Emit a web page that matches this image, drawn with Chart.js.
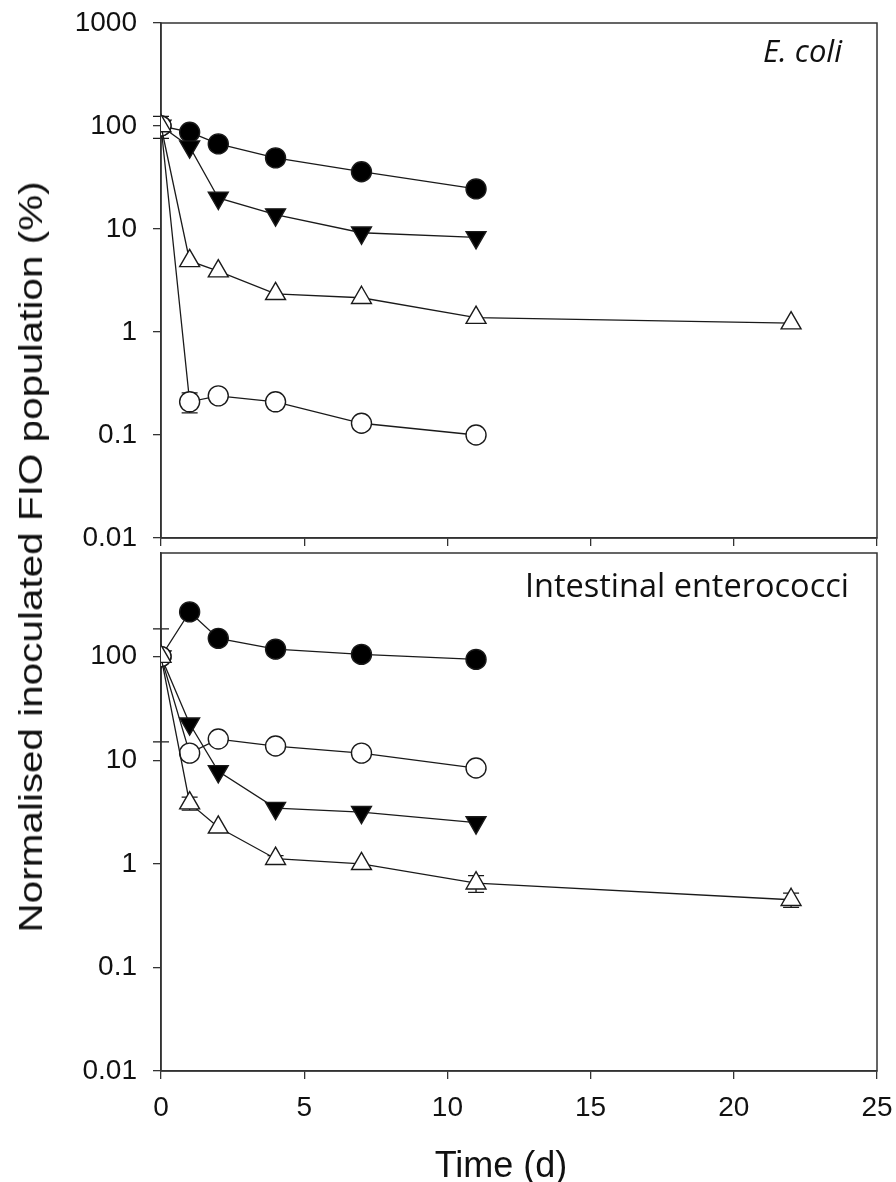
<!DOCTYPE html>
<html>
<head>
<meta charset="utf-8">
<title>FIO survival</title>
<script src="https://cdn.jsdelivr.net/npm/chart.js@4.4.1/dist/chart.umd.min.js"></script>
<style>
  html, body { margin: 0; padding: 0; background: #fff; }
  #wrap { position: relative; width: 896px; height: 1182px; overflow: hidden; }
  canvas { position: absolute; left: 0; }
  #top { top: 0; }
  #bottom { top: 548px; }
  .axis-title { position: absolute; font-family: 'Liberation Sans', Arial, sans-serif; color: #111; white-space: nowrap; }
  #xTitle { font-size: 36px; line-height: 36px; left: 501px; top: 1147px; transform: translateX(-50%); }
  #yTitle { font-size: 34px; line-height: 34px; left: 29.5px; top: 557px; transform: translate(-50%, -50%) rotate(-90deg) scaleX(1.19); }
</style>
</head>
<body>
<div id="wrap">
  <canvas id="top" width="896" height="560"></canvas>
  <canvas id="bottom" width="896" height="634"></canvas>
  <div class="axis-title" id="yTitle">Normalised inoculated FIO population (%)</div>
  <div class="axis-title" id="xTitle">Time (d)</div>
</div>
<script>
// sampling days (the open-triangle treatment was followed to day 22)
const days = [0, 1, 2, 4, 7, 11];
const daysLong = [0, 1, 2, 4, 7, 11, 22];
const xTicks = [0, 5, 10, 15, 20, 25];
const yTicksTop = [0.01, 0.1, 1, 10, 100, 1000];
const yTicksBottom = [0.01, 0.1, 1, 10, 100];

// E. coli, % of inoculated population
const ecoliFilledCircle = [100, 87, 67, 49, 36, 24.5];
const ecoliFilledTriangle = [100, 63, 20, 13.8, 9.2, 8.3];
const ecoliOpenTriangle = [100, 4.9, 3.9, 2.35, 2.15, 1.38, 1.22];
const ecoliOpenCircle = [100, 0.21, 0.24, 0.21, 0.13, 0.1];
// standard deviations (null = hidden behind the marker)
const ecoliFilledTriangleSd = [24, null, null, null, null, null];
const ecoliOpenCircleSd = [null, 0.046, null, null, null, null];

// Intestinal enterococci, % of inoculated population
const entFilledCircle = [100, 270, 150, 118, 105, 94];
const entOpenCircle = [100, 11.7, 16, 13.7, 11.7, 8.4];
const entFilledTriangle = [100, 22.5, 7.8, 3.45, 3.15, 2.5];
const entOpenTriangle = [100, 3.85, 2.25, 1.12, 1.0, 0.65, 0.45];
const entOpenCircleSd = [85, null, null, null, null, null];
const entOpenTriangleSd = [null, 0.55, null, 0.08, null, 0.12, 0.07];

const ink = '#1a1a1a';
const tickFont = { family: "'Liberation Sans', Arial, sans-serif", size: 28 };

const filledCircle = { pointStyle: 'circle', pointRadius: 10, pointBackgroundColor: '#000' };
const openCircle = { pointStyle: 'circle', pointRadius: 10, pointBackgroundColor: '#fff' };
const filledDown = { pointStyle: 'triangle', pointRotation: 180, pointRadius: 11.5, pointBackgroundColor: '#000' };
const openUp = { pointStyle: 'triangle', pointRadius: 11.5, pointBackgroundColor: '#fff' };

function series(xs, ys, sd, style) {
  return Object.assign({
    data: xs.map((x, i) => ({ x: x, y: ys[i] })),
    sd: sd || [],
    showLine: true,
    borderColor: ink,
    borderWidth: 1.3,
    pointBorderColor: ink,
    pointBorderWidth: 1.4
  }, style);
}

// vertical SD whiskers with caps, drawn under the markers
const errorBars = {
  id: 'errorBars',
  beforeDatasetsDraw(chart) {
    const ctx = chart.ctx, xs = chart.scales.x, ys = chart.scales.y;
    ctx.save();
    ctx.strokeStyle = ink;
    ctx.lineWidth = 1.3;
    chart.data.datasets.forEach(ds => {
      ds.sd.forEach((e, i) => {
        if (e == null) return;
        const p = ds.data[i];
        const px = xs.getPixelForValue(p.x);
        const hi = ys.getPixelForValue(p.y + e);
        const lo = ys.getPixelForValue(Math.max(p.y - e, 0.001));
        ctx.beginPath();
        ctx.moveTo(px, hi); ctx.lineTo(px, lo);
        ctx.moveTo(px - 8, hi); ctx.lineTo(px + 8, hi);
        ctx.moveTo(px - 8, lo); ctx.lineTo(px + 8, lo);
        ctx.stroke();
      });
    });
    ctx.restore();
  }
};

// box around the plot area plus the organism name in the corner
const frame = {
  id: 'frame',
  beforeDatasetsDraw(chart) {
    const a = chart.chartArea, ctx = chart.ctx;
    ctx.save();
    ctx.strokeStyle = '#333';
    ctx.lineWidth = 1.5;
    ctx.strokeRect(a.left, a.top, a.right - a.left, a.bottom - a.top);
    ctx.restore();
  },
  afterDraw(chart, args, opts) {
    if (!opts.text) return;
    const a = chart.chartArea, ctx = chart.ctx;
    ctx.save();
    ctx.fillStyle = '#111';
    ctx.font = (opts.italic ? 'italic ' : '') + opts.size + 'px "Open Sans", sans-serif';
    ctx.textAlign = 'right';
    ctx.textBaseline = 'alphabetic';
    ctx.fillText(opts.text, a.right - opts.dx, a.top + opts.dy);
    ctx.restore();
  }
};

function scales(yTicks, showXLabels) {
  const grid = { drawOnChartArea: false, drawTicks: true, tickLength: 8, color: '#333', lineWidth: 1.3 };
  const border = { display: true, color: '#333', width: 1.5 };
  return {
    x: {
      type: 'linear', min: 0, max: 25,
      afterBuildTicks: s => { s.ticks = xTicks.map(v => ({ value: v })); },
      // fixed band height; edge labels may spill past the plot area
      afterFit: s => { s.height = showXLabels ? 111 : 10; s.paddingLeft = 0; s.paddingRight = 0; },
      grid: grid, border: border,
      ticks: { display: showXLabels, padding: 12, color: '#111', font: tickFont, maxRotation: 0 }
    },
    y: {
      type: 'logarithmic', min: 0.01, max: 1000,
      afterBuildTicks: s => { s.ticks = yTicks.map(v => ({ value: v })); },
      afterFit: s => { s.width = 161; s.paddingTop = 0; s.paddingBottom = 0; },
      grid: grid, border: border,
      ticks: { padding: 16, color: '#111', font: tickFont, callback: v => String(v) }
    }
  };
}

function panel(id, datasets, yTicks, showXLabels, padding, label) {
  return new Chart(document.getElementById(id), {
    type: 'scatter',
    data: { datasets: datasets },
    options: {
      responsive: false,
      animation: false,
      events: [],
      layout: { autoPadding: false, padding: padding },
      scales: scales(yTicks, showXLabels),
      plugins: { legend: { display: false }, tooltip: { enabled: false }, frame: label }
    },
    plugins: [errorBars, frame]
  });
}

panel('top', [
  series(daysLong, ecoliOpenTriangle, null, openUp),
  series(days, ecoliOpenCircle, ecoliOpenCircleSd, openCircle),
  series(days, ecoliFilledTriangle, ecoliFilledTriangleSd, filledDown),
  series(days, ecoliFilledCircle, null, filledCircle)
], yTicksTop, false, { top: 23, right: 19, bottom: 12, left: 0 },
  { text: 'E. coli', italic: true, size: 31, dx: 35, dy: 39 });

panel('bottom', [
  series(daysLong, entOpenTriangle, entOpenTriangleSd, openUp),
  series(days, entOpenCircle, entOpenCircleSd, openCircle),
  series(days, entFilledTriangle, null, filledDown),
  series(days, entFilledCircle, null, filledCircle)
], yTicksBottom, true, { top: 5, right: 19, bottom: 0, left: 0 },
  { text: 'Intestinal enterococci', italic: false, size: 32.5, dx: 28, dy: 44 });
</script>
</body>
</html>
